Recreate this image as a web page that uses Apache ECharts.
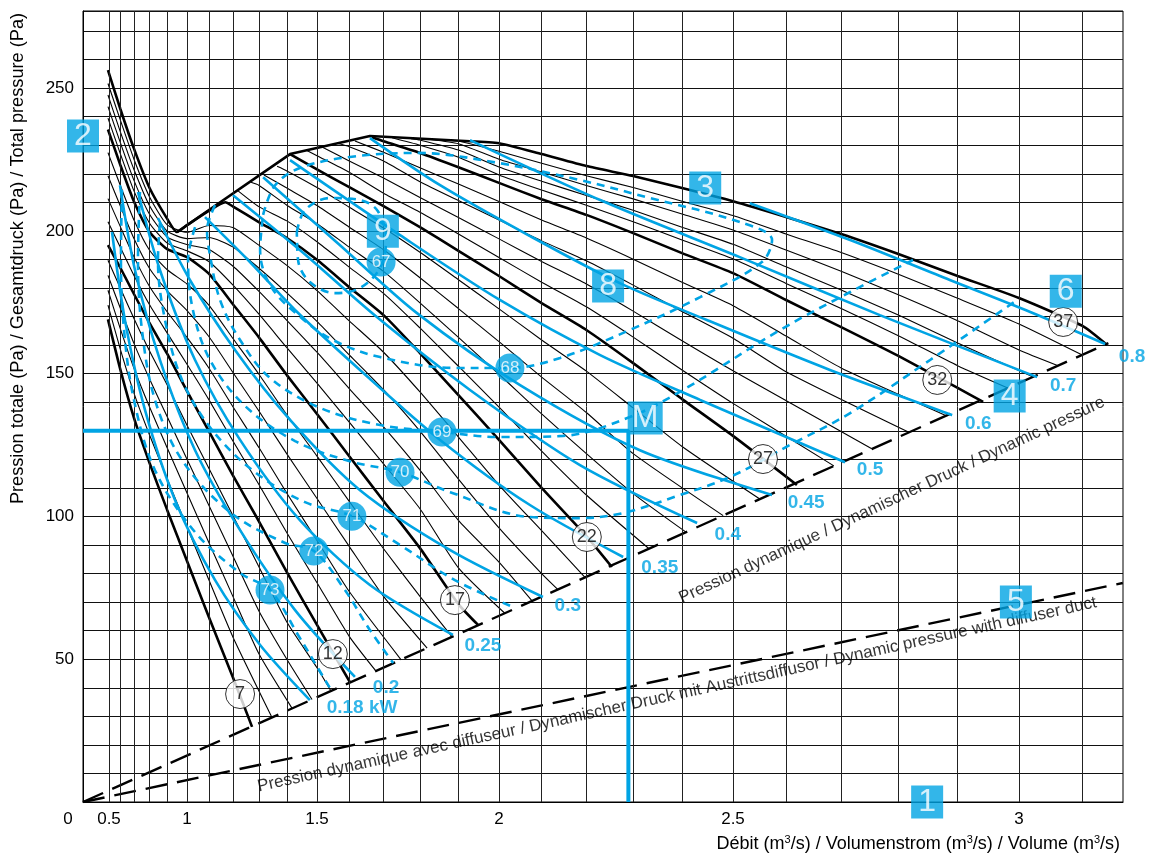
<!DOCTYPE html>
<html>
<head>
<meta charset="utf-8">
<title>Fan characteristic</title>
<script src="https://cdn.jsdelivr.net/npm/echarts@6/dist/echarts.min.js"></script>
<style>
  html, body { margin: 0; padding: 0; background: #fff; }
  #chart { width: 1157px; height: 856px; }
</style>
</head>
<body>
<div id="chart"></div>
<script>
// ---------- axis values ----------
const flowTicks = [0, 0.5, 1, 1.5, 2, 2.5, 3];
const flowGrid = [0.5, 0.6, 0.7, 0.8, 0.9, 1.0, 1.1, 1.2, 1.3, 1.4, 1.5, 1.6, 1.7, 1.8, 1.9, 2.0,
                  2.1, 2.2, 2.3, 2.4, 2.5, 2.6, 2.7, 2.8, 2.9, 3.0, 3.1];
const pressureTicks = [50, 100, 150, 200, 250];

// ---------- fan characteristics, one per blade angle: [volume m3/s, total pressure Pa] ----------
const blade07 = [[0.49,169],[0.6,151.3],[0.7,134.5],[0.8,118.7],[0.9,102.2],[1.0,84.4],[1.1,64.8],[1.2,43.8],[1.275,26.3]];
const blade08 = [[0.49,174],[0.6,158.4],[0.7,143.2],[0.8,128.5],[0.9,113.1],[1.0,96.3],[1.1,77.8],[1.2,57.9],[1.348,29.6]];
const blade09 = [[0.49,179.2],[0.6,165.6],[0.7,151.9],[0.8,138.3],[0.9,124],[1.0,108.2],[1.1,90.9],[1.2,72.1],[1.3,52],[1.418,32.8]];
const blade10 = [[0.49,184.4],[0.6,172.8],[0.7,160.6],[0.8,148.1],[0.9,134.9],[1.0,120],[1.1,103.9],[1.2,86.2],[1.3,67],[1.4,50],[1.484,35.9]];
const blade11 = [[0.49,189.7],[0.6,179.9],[0.7,169.3],[0.8,157.9],[0.9,146],[1.0,131.9],[1.1,116.9],[1.2,100.4],[1.3,82.5],[1.4,63],[1.5,47],[1.544,38.9]];
const blade12 = [[0.49,195],[0.6,187],[0.7,177.9],[0.8,167.7],[0.9,156.9],[1.0,143.9],[1.1,129.9],[1.2,114.5],[1.3,98.4],[1.4,80.5],[1.5,62],[1.602,42]];
const blade13 = [[0.49,203.2],[0.6,194.2],[0.7,184.4],[0.8,174.1],[0.9,164.2],[1.0,153.3],[1.1,140.9],[1.2,126.5],[1.3,111.3],[1.4,94.3],[1.5,76.8],[1.6,58],[1.678,45.9]];
const blade14 = [[0.49,211.3],[0.6,201.4],[0.7,190.9],[0.8,180.5],[0.9,171.6],[1.0,162.7],[1.1,152],[1.2,138.5],[1.3,124.2],[1.4,108.1],[1.5,91.6],[1.6,73.7],[1.749,49.8]];
const blade15 = [[0.49,219.3],[0.6,208.6],[0.7,197.3],[0.8,186.8],[0.9,179],[1.0,172.1],[1.1,163],[1.2,150.5],[1.3,137],[1.4,121.9],[1.5,106.3],[1.6,89.5],[1.7,72],[1.819,53.9]];
const blade16 = [[0.49,227.4],[0.6,215.8],[0.7,203.8],[0.8,193.2],[0.9,186.4],[1.0,181.4],[1.1,174],[1.2,162.4],[1.3,149.9],[1.4,135.6],[1.5,121.1],[1.6,105.3],[1.7,88.7],[1.8,72],[1.884,57.8]];
const blade17 = [[0.49,235.5],[0.6,223],[0.7,210.3],[0.8,199.6],[0.9,193.6],[1.0,190.8],[1.1,185],[1.2,174.4],[1.3,162.8],[1.4,149.5],[1.5,135.9],[1.6,121.1],[1.7,105.4],[1.8,88.9],[1.9,69.3],[1.949,62]];
const blade18 = [[0.49,239.5],[0.6,226.9],[0.7,214],[0.8,202.7],[0.9,195.7],[1.0,193],[1.1,189.3],[1.2,181.1],[1.3,170.9],[1.4,159.1],[1.5,146.7],[1.6,133],[1.7,118.4],[1.8,102.7],[1.9,82],[2.014,66.1]];
const blade19 = [[0.49,243.5],[0.6,230.8],[0.7,217.7],[0.8,205.8],[0.9,197.8],[1.0,195.2],[1.1,193.5],[1.2,187.7],[1.3,178.9],[1.4,168.7],[1.5,157.5],[1.6,144.8],[1.7,131.4],[1.8,116.2],[1.9,98.6],[2.0,84],[2.078,70.4]];
const blade20 = [[0.49,247.6],[0.6,234.6],[0.7,221.5],[0.8,208.8],[0.9,199.9],[1.0,197.3],[1.1,197.7],[1.2,194.4],[1.3,187],[1.4,178.3],[1.5,168.3],[1.6,156.6],[1.7,144.4],[1.8,129.9],[1.9,113.1],[2.0,96],[2.1,80],[2.137,74.4]];
const blade21 = [[0.49,251.6],[0.6,238.7],[0.7,225.1],[0.8,211.9],[0.9,202.1],[1.0,199.5],[1.1,201.9],[1.2,201.2],[1.3,195],[1.4,187.9],[1.5,179.1],[1.6,168.5],[1.7,157.5],[1.8,143.6],[1.9,127.8],[2.0,111],[2.1,95],[2.197,78.7]];
const blade22 = [[0.49,256.3],[0.6,242.6],[0.7,228.8],[0.8,215],[0.9,204.2],[0.95,199.6],[1.0,202],[1.1,207],[1.17,210],[1.2,208.6],[1.3,203.1],[1.4,197.5],[1.5,189.9],[1.6,180.3],[1.7,170.5],[1.8,157.2],[1.9,142.5],[2.0,126.8],[2.1,110],[2.2,93.1],[2.255,82.3]];
const blade23 = [[1.221,214],[1.3,208.5],[1.4,203.5],[1.5,196.2],[1.6,187.3],[1.7,178.1],[1.8,166],[1.9,152.6],[2.0,138.3],[2.1,122.9],[2.2,107.5],[2.333,88.7]];
const blade24 = [[1.271,217],[1.3,216],[1.4,209],[1.5,202.5],[1.6,194.3],[1.7,185.8],[1.8,174.8],[1.9,162.7],[2.0,149.8],[2.1,135.9],[2.2,122],[2.3,108],[2.408,94.5]];
const blade25 = [[1.319,219.6],[1.4,215],[1.5,208.9],[1.6,201.3],[1.7,193.4],[1.8,183.6],[1.9,172.8],[2.0,161.2],[2.1,148.8],[2.2,136.4],[2.3,122],[2.481,100.3]];
const blade26 = [[1.366,222.6],[1.4,221],[1.5,215.2],[1.6,208.3],[1.7,201],[1.8,192.5],[1.9,182.9],[2.0,172.7],[2.1,161.8],[2.2,150.9],[2.3,138],[2.4,124.5],[2.551,106.1]];
const blade27 = [[1.411,226.9],[1.5,221.5],[1.6,215.3],[1.7,208.7],[1.8,201.3],[1.9,193],[2.0,184.2],[2.1,174.7],[2.2,165.3],[2.3,153.7],[2.4,141.1],[2.5,128.2],[2.62,111]];
const blade28 = [[1.464,228.3],[1.5,226.3],[1.6,220.5],[1.7,213.2],[1.8,206.5],[1.9,198.9],[2.0,190.7],[2.1,182],[2.2,173.4],[2.3,162.8],[2.4,151.3],[2.5,139.6],[2.687,117.7]];
const blade29 = [[1.516,229.4],[1.6,224.5],[1.7,218.5],[1.8,211.7],[1.9,204.7],[2.0,197.2],[2.1,189.3],[2.2,181.4],[2.3,171.9],[2.4,161.5],[2.5,151],[2.754,123.7]];
const blade30 = [[1.566,230.6],[1.6,229.5],[1.7,224.5],[1.8,217.2],[1.9,210.6],[2.0,203.8],[2.1,196.5],[2.2,189.5],[2.3,181],[2.4,171.8],[2.5,162.4],[2.6,150.7],[2.818,129.5]];
const blade31 = [[1.617,231.5],[1.7,227.5],[1.8,222.1],[1.9,216.4],[2.0,210.3],[2.1,203.8],[2.2,197.5],[2.3,190.1],[2.4,182],[2.5,173.8],[2.6,163.2],[2.7,152],[2.881,135.3]];
const blade32 = [[1.667,232.8],[1.7,231.4],[1.8,227.3],[1.9,222.3],[2.0,216.8],[2.1,211.1],[2.2,205.6],[2.3,199.2],[2.4,192.2],[2.5,185.2],[2.6,175.8],[2.7,166.3],[2.8,156.2],[2.9,145],[2.942,140.1]];
const blade33 = [[1.724,232.6],[1.8,230],[1.9,225.8],[2.0,219.6],[2.1,214.3],[2.2,209],[2.3,203.2],[2.4,196.8],[2.5,190.2],[2.6,181.6],[2.7,172.8],[2.8,163.3],[2.9,152.8],[2.982,145]];
const blade34 = [[1.776,232.3],[1.8,231.8],[1.9,228.3],[2.0,222.4],[2.1,217.4],[2.2,212.4],[2.3,207.2],[2.4,201.3],[2.5,195.3],[2.6,187.4],[2.7,179.3],[2.8,170.5],[2.9,160.7],[3.022,148.9]];
const blade35 = [[1.829,232],[1.9,230.5],[2.0,225.1],[2.1,220.6],[2.2,215.9],[2.3,211.2],[2.4,205.9],[2.5,200.3],[2.6,193.3],[2.7,185.9],[2.8,177.6],[2.9,168.5],[3.0,158.3],[3.062,152.8]];
const blade36 = [[1.884,231.7],[1.9,231.5],[2.0,227.9],[2.1,223.7],[2.2,219.3],[2.3,215.2],[2.4,210.4],[2.5,205.4],[2.6,198.9],[2.7,192.4],[2.8,184.8],[2.9,176.4],[3.0,167.4],[3.099,156.6]];
const blade37 = [[1.929,231.4],[2.0,230.7],[2.1,226.9],[2.2,222.7],[2.3,219.2],[2.4,215],[2.5,210.4],[2.6,204.9],[2.7,198.9],[2.8,191.9],[2.9,184.2],[3.0,176.5],[3.1,166.7],[3.138,160]];

const bladeCurves = [blade07, blade08, blade09, blade10, blade11, blade12, blade13, blade14, blade15, blade16,
                     blade17, blade18, blade19, blade20, blade21, blade22, blade23, blade24, blade25, blade26,
                     blade27, blade28, blade29, blade30, blade31, blade32, blade33, blade34, blade35, blade36, blade37];
const bladeAngles = [7, 8, 9, 10, 11, 12, 13, 14, 15, 16, 17, 18, 19, 20, 21, 22, 23, 24, 25, 26, 27, 28, 29, 30, 31, 32, 33, 34, 35, 36, 37];
const labelledAngles = [7, 12, 17, 22, 27, 32, 37];

// stall limit (curve 3)
const stallLimit = [[0.951,199.6],[1.411,226.9],[1.661,233.2],[1.929,231.4]];

// dynamic pressure, free outlet and with diffuser duct
const dynamicPressure = [[0,0],[3.14,160.7]];
const dynamicPressureDiffuser = [[0,0],[3.162,76.7]];

// absorbed power, kW
const powerLevels = ['0.18 kW', '0.2', '0.25', '0.3', '0.35', '0.4', '0.45', '0.5', '0.6', '0.7', '0.8'];
const power018 = [[0.528,199.6],[0.635,168.8],[0.772,137.3],[0.941,105.7],[1.127,77.7],[1.305,55],[1.477,35.7]];
const power020 = [[0.596,216],[0.707,186.3],[0.86,154.8],[1.038,123.2],[1.229,95.2],[1.428,67.2],[1.617,43.8]];
const power025 = [[0.727,213.6],[0.86,186.3],[1.038,154.8],[1.229,126.8],[1.444,98.7],[1.661,76],[1.886,58.5]];
const power030 = [[0.849,204.5],[1.014,182.8],[1.209,158.3],[1.411,133.8],[1.632,109.2],[1.879,88.2],[2.103,71.8]];
const power035 = [[1.083,204.8],[1.267,189.1],[1.428,172.3],[1.632,151.3],[1.853,126.8],[2.073,104],[2.279,85.8]];
const power040 = [[1.201,212.5],[1.444,193.3],[1.681,169.8],[1.929,144.3],[2.186,118],[2.43,97.7]];
const power045 = [[1.316,218.8],[1.572,195],[1.792,171.2],[2.05,146],[2.314,123.2],[2.574,107.5]];
const power050 = [[1.411,224.8],[1.746,198.5],[2.002,175.8],[2.23,156.5],[2.436,140.8],[2.707,119]];
const power060 = [[1.661,232.5],[1.853,216],[2.073,198.2],[2.272,181.7],[2.449,168.8],[2.68,151.3],[2.891,135.5]];
const power070 = [[1.929,231.8],[2.23,210.8],[2.513,190.8],[2.768,170.5],[3.029,148.8]];
const power080 = [[2.532,209.7],[2.716,196.8],[2.887,182.8],[3.018,171.6],[3.135,160.4]];
const powerCurves = [power018, power020, power025, power030, power035, power040, power045, power050, power060, power070, power080];

// total efficiency contours, %
const efficiencyLevels = [67, 68, 69, 70, 71, 72, 73];
const eta67 = [[1.434,199.6],[1.461,207.3],[1.541,211.5],[1.632,210.8],[1.684,206.9],[1.707,196.8],[1.69,187],[1.632,180],[1.557,178.2],[1.477,182.1],[1.438,189.8],[1.434,199.6]];
const eta68 = [[1.316,205.6],[1.359,216],[1.444,222],[1.602,225.9],[1.792,227.3],[2.002,223.7],[2.186,217.8],[2.335,211.5],[2.513,203.1],[2.574,196.8],[2.555,189.1],[2.436,176.8],[2.293,165.3],[2.142,155.5],[2.026,152],[1.891,152],[1.69,155.8],[1.55,161.8],[1.438,170.5],[1.341,181],[1.305,193.3],[1.316,205.6]];
const eta69 = [[1.127,209],[1.092,200.3],[1.105,191.5],[1.148,175.8],[1.229,161.8],[1.341,148.5],[1.51,138],[1.69,132],[1.858,129.6],[2.002,127.8],[2.148,128.2],[2.293,134.8],[2.402,144.3],[2.589,165.3],[2.716,178.6],[2.825,189.8]];
const eta70 = [[1.038,201.3],[1.005,189.8],[1.028,172.3],[1.105,154.8],[1.248,138.7],[1.428,126.4],[1.602,119.3],[1.746,115.5],[1.879,108.5],[2.073,99.8],[2.186,99.4],[2.279,101.2],[2.396,107.5],[2.494,113.8],[2.607,125],[2.716,136.2],[2.854,154.8],[2.997,175.8]];
const eta71 = [[0.86,202.7],[0.849,189.8],[0.888,168.8],[0.976,147.8],[1.114,130.3],[1.286,115.5],[1.461,105],[1.608,100.1],[1.746,90],[1.891,77.7],[2.033,68.3]];
const eta72 = [[0.74,213.6],[0.727,189.8],[0.753,165.3],[0.832,140.8],[0.976,119.7],[1.189,101.5],[1.394,90.7],[1.49,87.9],[1.587,74.2],[1.661,60.2],[1.727,48.7]];
const eta73 = [[0.612,214.3],[0.604,189.8],[0.628,165.3],[0.7,140.8],[0.832,116.2],[1.038,94.5],[1.229,80.2],[1.341,74.2],[1.438,58.5],[1.503,46.9],[1.541,39.9]];
const efficiencyCurves = [eta67, eta68, eta69, eta70, eta71, eta72, eta73];

// selected duty point M
const dutyPoint = [2.29, 130];

// ---------- layout ----------
const BLUE = '#00a4e4';
const INK = '#000';
const FONT = '"Liberation Sans", Arial, Helvetica, sans-serif';

// The volume axis is a square-law scale (position grows with V²),
// so the dynamic-pressure lines come out straight.
const sq = v => v * v;
const toAxis = pts => pts.map(([v, p]) => [sq(v), p]);

// where the annotation tags sit: [V, p]
const angleTagAt = [[1.229,37.8],[1.55,51.8],[1.891,70.7],[2.201,92.8],[2.557,120.1],[2.866,147.8],[3.07,168.1]];
const etaTagAt = [[1.693,189.1],[2.026,152],[1.858,129.6],[1.746,115.5],[1.608,100.1],[1.49,87.9],[1.341,74.2]];
const powerTagAt = [[1.638,32.9],[1.707,39.9],[1.961,54.6],[2.159,68.6],[2.355,81.9],[2.49,93.5],[2.637,104.7],[2.751,116.2],[2.934,132.4],[3.07,145.7],[3.176,155.8]];
const keyTags = [['1',2.849,0],['2',0,233.2],['3',2.446,215],['4',2.985,142.2],['5',2.995,70],['6',3.074,178.9],['8',2.247,180.7],['9',1.698,199.9],['M',2.325,134.5]];

const series = [];

// vertical grid lines at every 0.1 m3/s
series.push({
  type: 'line', data: [], silent: true, z: 1,
  markLine: {
    silent: true, symbol: ['none', 'none'], animation: false,
    label: { show: false },
    lineStyle: { color: '#222', width: 1, type: 'solid' },
    emphasis: { disabled: true },
    data: flowGrid.map(v => ({ xAxis: sq(v) }))
  }
});

function curve(pts, color, width, type, z, smooth) {
  return {
    type: 'line', data: toAxis(pts), symbol: 'none', showSymbol: false,
    smooth: smooth, silent: true, z: z,
    lineStyle: { color: color, width: width, type: type || 'solid' },
    emphasis: { disabled: true }
  };
}

bladeCurves.forEach((pts, i) => {
  const thick = labelledAngles.includes(bladeAngles[i]);
  series.push(curve(pts, '#000', thick ? 2.6 : 1.1, 'solid', thick ? 4 : 3, 0.2));
});

series.push(curve(stallLimit, '#000', 2.6, 'solid', 4, false));
series.push(curve(dynamicPressure, '#000', 2.4, [22, 10], 4, false));
series.push(curve(dynamicPressureDiffuser, '#000', 2.4, [22, 10], 4, false));

powerCurves.forEach(pts => series.push(curve(pts, BLUE, 2.6, 'solid', 5, 0.3)));
efficiencyCurves.forEach(pts => series.push(curve(pts, BLUE, 2.6, [8, 6], 5, 0.35)));

// duty point M: lines to both axes
series.push({
  type: 'line', symbol: 'none', silent: true, z: 6,
  data: [[0, dutyPoint[1]], [sq(dutyPoint[0]), dutyPoint[1]], [sq(dutyPoint[0]), 0]],
  lineStyle: { color: BLUE, width: 4 }
});

function tags(items, symbol, size, itemStyle, labelStyle, z) {
  return {
    type: 'scatter', clip: false, silent: true, z: z,
    symbol: symbol, symbolSize: size,
    itemStyle: itemStyle,
    data: items.map(([text, v, p]) => ({ value: [sq(v), p], name: String(text) })),
    label: Object.assign({ show: true, position: 'inside', formatter: '{b}', fontFamily: FONT }, labelStyle),
    emphasis: { disabled: true }
  };
}

series.push(tags(labelledAngles.map((a, i) => [a, ...angleTagAt[i]]), 'circle', 29,
  { color: '#fff', borderColor: '#000', borderWidth: 1 },
  { color: '#000', fontSize: 18 }, 8));

series.push(tags(efficiencyLevels.map((e, i) => [e, ...etaTagAt[i]]), 'circle', 29,
  { color: BLUE },
  { color: '#fff', fontSize: 17 }, 8));

series.push(tags(powerLevels.map((t, i) => [t, ...powerTagAt[i]]), 'circle', 0,
  { color: 'transparent' },
  { color: BLUE, fontSize: 19, fontWeight: 'bold' }, 8));

series.push(tags(keyTags.filter(k => k[0] !== 'M'), 'rect', [32, 33],
  { color: BLUE },
  { color: '#fff', fontSize: 32 }, 9));

series.push(tags(keyTags.filter(k => k[0] === 'M'), 'rect', [35, 33],
  { color: BLUE },
  { color: '#fff', fontSize: 32 }, 9));

// captions along the dynamic pressure lines
series.push({
  type: 'scatter', clip: false, silent: true, z: 7, symbolSize: 0,
  data: [
    { value: [sq(2.789), 105.7], name: 'Pression dynamique / Dynamischer Druck / Dynamic pressure', rot: 25, fs: 17 },
    { value: [sq(2.39), 37.6], name: 'Pression dynamique avec diffuseur / Dynamischer Druck mit Austrittsdiffusor / Dynamic pressure with diffuser duct', rot: 12.4, fs: 17 }
  ].map(d => ({ value: d.value, name: d.name, label: { rotate: d.rot, fontSize: d.fs } })),
  label: { show: true, position: 'inside', formatter: '{b}', color: '#000', fontFamily: FONT },
  emphasis: { disabled: true }
});

const chart = echarts.init(document.getElementById('chart'), null, { renderer: 'canvas' });
chart.setOption({
  animation: false,
  backgroundColor: '#fff',
  grid: {
    left: 83, right: 34, top: 11, bottom: 54, containLabel: false, outerBoundsMode: 'none',
    show: true, borderColor: '#000', borderWidth: 1
  },
  xAxis: {
    type: 'value', min: 0, max: 10,
    name: 'Débit (m{s|3}/s) / Volumenstrom (m{s|3}/s) / Volume (m{s|3}/s)',
    nameLocation: 'end', nameGap: -3,
    nameTextStyle: {
      align: 'right', verticalAlign: 'top', padding: [32, 0, 0, 0],
      color: INK, fontSize: 18, fontFamily: FONT,
      rich: { s: { fontSize: 11, verticalAlign: 'top', padding: [0, 0, 9, 0], color: INK, fontFamily: FONT } }
    },
    axisLine: { show: true, lineStyle: { color: '#000', width: 1 } },
    axisTick: { show: false },
    splitLine: { show: false },
    axisLabel: {
      customValues: flowTicks.map(sq),
      margin: 9, color: INK, fontSize: 17, fontFamily: FONT,
      formatter: u => {
        const v = +Math.sqrt(u).toFixed(2);
        return v === 0 ? '{z|0}' : String(v);
      },
      rich: { z: { padding: [0, 30, 0, 0], fontSize: 17, color: INK, fontFamily: FONT } }
    }
  },
  yAxis: {
    type: 'value', min: 0, max: 277, interval: 10,
    name: 'Pression totale (Pa) / Gesamtdruck (Pa) / Total pressure (Pa)',
    nameLocation: 'middle', nameGap: 56,
    nameTextStyle: { color: INK, fontSize: 18.2, fontFamily: FONT, padding: [0, 0, 0, 296] },
    axisLine: { show: true, lineStyle: { color: '#000', width: 1 } },
    axisTick: { show: false },
    splitLine: { show: true, lineStyle: { color: '#111', width: 1 } },
    axisLabel: {
      margin: 9, color: INK, fontSize: 17, fontFamily: FONT,
      formatter: p => (pressureTicks.includes(p) ? String(p) : '')
    }
  },
  series: series
});
</script>
</body>
</html>
